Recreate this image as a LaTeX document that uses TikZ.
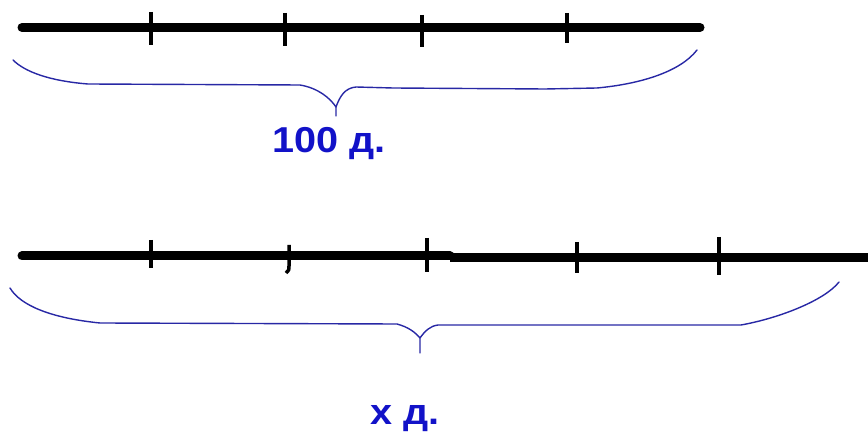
\documentclass[tikz,border=0pt]{standalone}
\usepackage{fontspec}
\setmainfont{Liberation Sans}
\definecolor{txtblue}{RGB}{18,18,200}
\definecolor{braceblue}{RGB}{40,40,165}
\tikzset{
  axis/.style={line width=9pt, black},
  tick/.style={line width=3.5pt, black},
  brace/.style={line width=1.4pt, braceblue, line join=round, line cap=round},
  lbl/.style={text=txtblue, font=\fontsize{36}{40}\selectfont\bfseries, inner sep=0pt, anchor=base}
}
\begin{document}
\begin{tikzpicture}[x=1pt,y=-1pt]
\useasboundingbox (0,0) rectangle (868,435);
% top segment
\draw[axis, line cap=round] (22,27.5) -- (700,27.5);
\foreach \x/\a/\b in {151/12/45, 285/13/46, 422/15/47, 567/13/43}
  \draw[tick] (\x,\a) -- (\x,\b);
% top brace
\draw[brace] (13,60) .. controls (25,72) and (50,81) .. (88,84) -- (300,85)
  .. controls (318,88) and (330,98) .. (336,107) -- (336,116);
\draw[brace] (336,107) .. controls (340,96) and (345,88) .. (356,87) -- (393,88) -- (545,89) -- (597,88)
  .. controls (640,84) and (680,72) .. (697,50);
\node[lbl] (t1) at (329,153) {\scalebox{1.1}[1]{100 д.}};
% bottom segment
\draw[axis, line cap=round] (22,256) -- (450,256);
\draw[axis] (450,258) -- (870,258);
\foreach \x/\a/\b in {151/240/268, 427/238/272, 577/242/273, 719/237/275}
  \draw[tick] (\x,\a) -- (\x,\b);
\draw[tick] (289,245) -- (289,266) .. controls (289,270) .. (286,273);
% bottom brace
\draw[brace] (10,288) .. controls (20,305) and (50,318) .. (100,323) -- (397,324)
  .. controls (408,327) and (415,332) .. (420,338) -- (420,353);
\draw[brace] (420,338) .. controls (425,331) and (430,326) .. (438,325) -- (741,325)
  .. controls (780,318) and (825,300) .. (839,282);
\node[lbl] (t2) at (405,425) {\scalebox{1.1}[1]{х д.}};
\end{tikzpicture}
\end{document}
